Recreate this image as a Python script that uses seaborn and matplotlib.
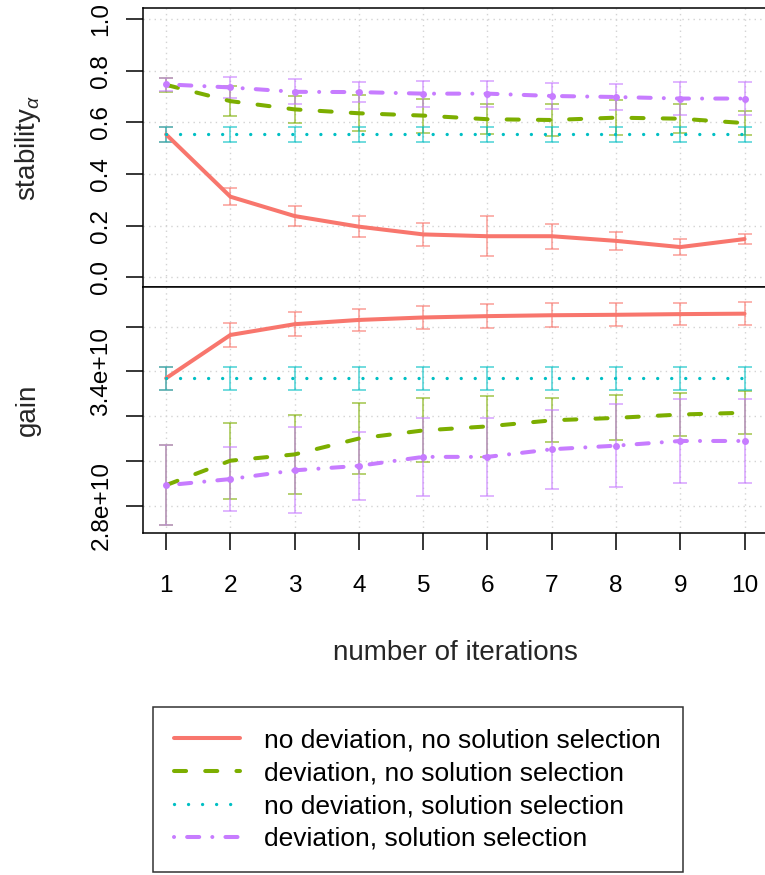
import matplotlib
matplotlib.use("Agg")
import matplotlib.pyplot as plt
from matplotlib.lines import Line2D
import seaborn as sns
import pandas as pd

# ---------------- data ----------------
iterations = [1, 2, 3, 4, 5, 6, 7, 8, 9, 10]
series_labels = [
    "no deviation, no solution selection",
    "deviation, no solution selection",
    "no deviation, solution selection",
    "deviation, solution selection",
]

# stability_alpha (mean, error)
stab_nd_nss = [0.553, 0.312, 0.237, 0.196, 0.166, 0.159, 0.159, 0.141, 0.117, 0.148]
stab_nd_nss_err = [0.030, 0.034, 0.040, 0.041, 0.046, 0.077, 0.048, 0.034, 0.032, 0.021]
stab_d_nss = [0.745, 0.682, 0.650, 0.635, 0.626, 0.612, 0.609, 0.618, 0.614, 0.597]
stab_d_nss_err = [0.026, 0.059, 0.053, 0.069, 0.066, 0.058, 0.062, 0.068, 0.055, 0.045]
stab_nd_ss = [0.554, 0.554, 0.554, 0.554, 0.554, 0.554, 0.554, 0.554, 0.554, 0.554]
stab_nd_ss_err = [0.029, 0.029, 0.029, 0.029, 0.029, 0.029, 0.029, 0.029, 0.029, 0.029]
stab_d_ss = [0.747, 0.735, 0.718, 0.717, 0.711, 0.711, 0.702, 0.698, 0.692, 0.692]
stab_d_ss_err = [0.026, 0.039, 0.048, 0.039, 0.050, 0.050, 0.052, 0.052, 0.064, 0.064]

# gain (mean, error)
gain_nd_nss = [3.370e10, 3.563e10, 3.611e10, 3.630e10, 3.641e10, 3.647e10, 3.651e10, 3.653e10, 3.656e10, 3.658e10]
gain_nd_nss_err = [0.052e10, 0.052e10, 0.054e10, 0.051e10, 0.051e10, 0.052e10, 0.053e10, 0.051e10, 0.050e10, 0.051e10]
gain_d_nss = [2.893e10, 3.002e10, 3.030e10, 3.101e10, 3.137e10, 3.155e10, 3.182e10, 3.193e10, 3.208e10, 3.216e10]
gain_d_nss_err = [0.179e10, 0.170e10, 0.178e10, 0.159e10, 0.143e10, 0.137e10, 0.098e10, 0.100e10, 0.098e10, 0.095e10]
gain_nd_ss = [3.370e10, 3.370e10, 3.370e10, 3.370e10, 3.370e10, 3.370e10, 3.370e10, 3.370e10, 3.370e10, 3.370e10]
gain_nd_ss_err = [0.052e10, 0.052e10, 0.052e10, 0.052e10, 0.052e10, 0.052e10, 0.052e10, 0.052e10, 0.052e10, 0.052e10]
gain_d_ss = [2.892e10, 2.920e10, 2.959e10, 2.979e10, 3.019e10, 3.019e10, 3.053e10, 3.069e10, 3.090e10, 3.090e10]
gain_d_ss_err = [0.179e10, 0.144e10, 0.192e10, 0.153e10, 0.175e10, 0.175e10, 0.176e10, 0.184e10, 0.189e10, 0.189e10]

stab_ticks = [0.0, 0.2, 0.4, 0.6, 0.8, 1.0]
stab_ticklabels = ["0.0", "0.2", "0.4", "0.6", "0.8", "1.0"]
gain_ticks = [2.8e10, 3.0e10, 3.2e10, 3.4e10, 3.6e10]
gain_ticklabels = ["2.8e+10", "", "", "3.4e+10", ""]

# ---------------- style ----------------
sns.set_theme(style="white")
plt.rcParams["font.family"] = ["Liberation Sans", "DejaVu Sans"]
plt.rcParams["mathtext.fontset"] = "custom"
plt.rcParams["mathtext.rm"] = "Liberation Sans"
plt.rcParams["mathtext.it"] = "Liberation Sans:italic"
plt.rcParams["text.color"] = "black"

colors = ["#F8766D", "#7CAE00", "#00BFC4", "#C77CFF"]
widths = [2.9, 2.9, 2.4, 2.9]
dash_patterns = [None, (3.0, 4.75), (0.01, 4.2), (0.01, 3.25, 3.0, 3.25)]
markers = [None, None, None, "o"]

FS_TICK = 17.6
FS_LAB = 20
FS_LEG = 19
W, H = 765, 875
fig = plt.figure(figsize=(W / 100, H / 100), dpi=100)

left_px, right_px = 143.0, 767.7
top1, bot1 = 8.3, 287.0
bot2 = 533.3
ax1 = fig.add_axes([left_px / W, 1 - bot1 / H, (right_px - left_px) / W, (bot1 - top1) / H])
ax2 = fig.add_axes([left_px / W, 1 - bot2 / H, (right_px - left_px) / W, (bot2 - bot1) / H])

stab_sets = [(stab_nd_nss, stab_nd_nss_err), (stab_d_nss, stab_d_nss_err),
             (stab_nd_ss, stab_nd_ss_err), (stab_d_ss, stab_d_ss_err)]
gain_sets = [(gain_nd_nss, gain_nd_nss_err), (gain_d_nss, gain_d_nss_err),
             (gain_nd_ss, gain_nd_ss_err), (gain_d_ss, gain_d_ss_err)]


def draw(ax, sets):
    for i, (vals, errs) in enumerate(sets):
        ax.errorbar(iterations, vals, yerr=errs, fmt="none", ecolor=colors[i],
                    elinewidth=1.2, capsize=5, capthick=1.2, alpha=0.65, zorder=2)
    for i, (vals, errs) in enumerate(sets):
        df = pd.DataFrame({"iteration": iterations, "value": vals})
        kw = {}
        if markers[i]:
            kw = dict(marker="o", markersize=5, markeredgewidth=0)
        sns.lineplot(data=df, x="iteration", y="value", ax=ax, color=colors[i],
                     linewidth=widths[i], zorder=3, legend=False, **kw)
        ln = ax.lines[-1]
        ln.set_solid_capstyle("round")
        ln.set_dash_capstyle("round")
        if dash_patterns[i] is not None:
            ln.set_dashes(dash_patterns[i])


draw(ax1, stab_sets)
draw(ax2, gain_sets)

for ax in (ax1, ax2):
    ax.set_xlim(0.64, 10.36)
    ax.set_xticks(iterations)
    ax.set_axisbelow(True)
    ax.grid(True, color="#d3d3d3", linestyle=(0, (1, 3)), linewidth=1.0)
    for s in ax.spines.values():
        s.set_color("black")
        s.set_linewidth(1.1)
    ax.set_xlabel("")
    ax.set_ylabel("")

ax1.set_ylim(-0.0376, 1.0414)
ax1.set_yticks(stab_ticks)
ax1.set_yticklabels(stab_ticklabels)
ax1.tick_params(axis="x", bottom=False, labelbottom=False)

ax2.set_ylim(2.678e10, 3.777e10)
ax2.set_yticks(gain_ticks)
ax2.set_yticklabels(gain_ticklabels)
ax2.set_xticklabels([str(v) for v in iterations])
ax2.tick_params(axis="x", bottom=True, length=12, width=1.1, direction="out",
                pad=18, labelsize=FS_TICK, colors="black")

for ax in (ax1, ax2):
    ax.tick_params(axis="y", left=True, length=12, width=1.1, direction="out",
                   pad=10, labelsize=FS_TICK, labelrotation=90, colors="black")
    for lbl in ax.get_yticklabels():
        lbl.set_va("center")

ax1.set_ylabel(r"stability$_{\alpha}$", fontsize=FS_LAB)
ax2.set_ylabel("gain", fontsize=FS_LAB)
for ax in (ax1, ax2):
    ax.yaxis.label.set(va="center", ha="center")
    ax.yaxis.set_label_coords((28 - left_px) / (right_px - left_px), 0.5)

ax2.set_xlabel("number of iterations", fontsize=FS_LAB)
ax2.xaxis.label.set(va="center")
ax2.xaxis.set_label_coords(0.5, (bot2 - 653) / (bot2 - bot1))

handles = []
for i in range(4):
    h = Line2D([], [], color=colors[i], linewidth=widths[i],
               solid_capstyle="round", dash_capstyle="round")
    if dash_patterns[i] is not None:
        h.set_dashes(dash_patterns[i])
    handles.append(h)

leg = fig.legend(handles, series_labels, loc="upper left",
                 bbox_to_anchor=(152.7 / W, 1 - 707 / H), frameon=True,
                 fancybox=False, edgecolor="black", fontsize=FS_LEG,
                 borderpad=0.82, labelspacing=0.33, handlelength=2.5,
                 handletextpad=0.91, borderaxespad=0)
leg.get_frame().set_linewidth(1.1)

fig.savefig("out.png", dpi=100)
